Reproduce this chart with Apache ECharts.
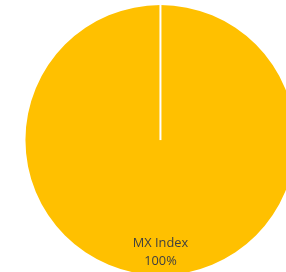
<!DOCTYPE html>
<html><head><meta charset="utf-8">
<script src="https://cdn.jsdelivr.net/npm/echarts@6/dist/echarts.min.js"></script>
<style>html,body{margin:0;padding:0;background:#fff}#c{width:286px;height:272px}</style>
</head><body><div id="c"></div>
<script>
const categories = ['MX Index'];
const values = [100];
const colors = ['#FFC000'];

const chart = echarts.init(document.getElementById('c'), null, {renderer: 'canvas'});
chart.setOption({
  animation: false,
  backgroundColor: '#ffffff',
  series: [{
    type: 'pie',
    center: ['56.1%', '51.5%'],
    radius: 135,
    startAngle: 90,
    clockwise: true,
    data: categories.map((n, i) => ({name: n, value: values[i], itemStyle: {color: colors[i]}})),
    itemStyle: {borderColor: '#ffffff', borderWidth: 0},
    label: {
      show: true,
      position: 'inside',
      formatter: '{b}\n{d}%',
      color: '#404040',
      fontFamily: 'Open Sans',
      fontSize: 12.8,
      lineHeight: 18,
      offset: [0, 42]
    },
    labelLine: {show: false},
    emphasis: {disabled: true}
  }]
});
const lay = chart.getModel().getSeriesByIndex(0).getData().getItemLayout(0);
const a = lay.startAngle;
chart.setOption({
  graphic: [{
    type: 'line', silent: true, z: 10,
    shape: {x1: lay.cx, y1: lay.cy, x2: lay.cx + Math.cos(a) * (lay.r + 2), y2: lay.cy + Math.sin(a) * (lay.r + 2)},
    style: {stroke: '#ffffff', lineWidth: 2}
  }]
});
</script></body></html>
